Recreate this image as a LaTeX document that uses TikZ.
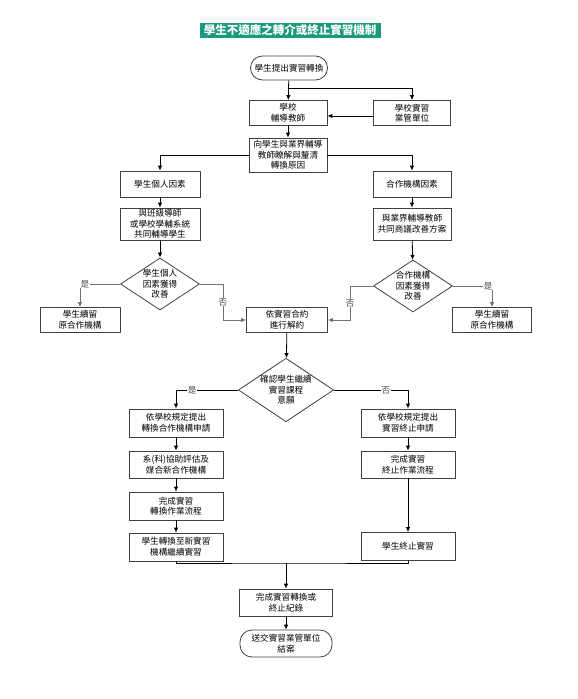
\documentclass[tikz,border=0pt]{standalone}
\usepackage{fontspec}
\setmainfont{Noto Sans CJK TC}
\usepackage{xcolor}
\usepackage{tikz}
\usetikzlibrary{arrows.meta,shapes.geometric}
\definecolor{titlegreen}{HTML}{1A9A7C}
\tikzset{every node/.style={font=\fontsize{8.6}{10.6}\selectfont,align=center},
    box/.style={draw=black!75,line width=0.8pt,inner sep=0pt},
    term/.style={box,rounded corners=12pt},
    decide/.style={box,diamond,aspect=1.5},
    flow/.style={draw,line width=0.8pt,-{Latex[length=5pt,width=4.5pt]}},
    plain/.style={draw,line width=0.8pt},
    branch/.style={draw=black!55,line width=0.8pt,-{Latex[length=5pt,width=4.5pt]}},
    yesno/.style={fill=white,inner sep=0.6pt,text=black!70}}

\begin{document}
\begin{tikzpicture}[x=1pt,y=-1pt]
            \useasboundingbox (0,0) rectangle (578,699);
            \node[fill=titlegreen,text=white,inner sep=0pt,minimum width=181pt,minimum height=15pt,
                font=\fontsize{11.5}{12}\selectfont\bfseries] (title) at (290,30) {學生不適應之轉介或終止實習機制};
            \node[term,minimum width=77pt,minimum height=24pt] (start) at (289,68) {學生提出實習轉換};
            \node[box,minimum width=78pt,minimum height=25pt] (teacher) at (288,113) {學校\\輔導教師};
            \node[box,minimum width=77pt,minimum height=25pt] (office) at (412,113) {學校實習\\業管單位};
            \node[box,minimum width=78pt,minimum height=34pt] (reason) at (288,155) {向學生與業界輔導\\教師瞭解與釐清\\轉換原因};
            \node[box,minimum width=80pt,minimum height=26pt] (personal) at (160,184) {學生個人因素};
            \node[box,minimum width=78pt,minimum height=26pt] (partner) at (412,184) {合作機構因素};
            \node[box,minimum width=80pt,minimum height=32pt] (counsel) at (160,224) {與班級導師\\或學校學輔系統\\共同輔導學生};
            \node[box,minimum width=78pt,minimum height=32pt] (negotiate) at (412,224) {與業界輔導教師\\共同商議改善方案};
            \node[decide,minimum width=79pt,minimum height=52pt] (dec1) at (160,284) {學生個人\\因素獲得\\改善};
            \node[decide,minimum width=79pt,minimum height=52pt] (dec2) at (413,286) {合作機構\\因素獲得\\改善};
            \node[box,minimum width=80pt,minimum height=25pt] (stay1) at (80,320) {學生續留\\原合作機構};
            \node[box,minimum width=79pt,minimum height=25pt] (stay2) at (492,320) {學生續留\\原合作機構};
            \node[box,minimum width=81pt,minimum height=25pt] (cancel) at (287,320) {依實習合約\\進行解約};
            \node[decide,minimum width=92pt,minimum height=63pt] (dec3) at (286,390) {確認學生繼續\\實習課程\\意願};
            \node[box,minimum width=94pt,minimum height=28pt] (applyT) at (176,423) {依學校規定提出\\轉換合作機構申請};
            \node[box,minimum width=94pt,minimum height=27pt] (match) at (176,464.5) {系(科)協助評估及\\媒合新合作機構};
            \node[box,minimum width=94pt,minimum height=28pt] (transfer) at (176,506) {完成實習\\轉換作業流程};
            \node[box,minimum width=94pt,minimum height=28pt] (newsite) at (176,547) {學生轉換至新實習\\機構繼續實習};
            \node[box,minimum width=94pt,minimum height=28pt] (applyE) at (408,423) {依學校規定提出\\實習終止申請};
            \node[box,minimum width=94pt,minimum height=27pt] (finishE) at (408,464.5) {完成實習\\終止作業流程};
            \node[box,minimum width=94pt,minimum height=28pt] (endE) at (408,546.5) {學生終止實習};
            \node[box,minimum width=93pt,minimum height=27pt] (record) at (286,602.5) {完成實習轉換或\\終止紀錄};
            \node[term,minimum width=92pt,minimum height=27pt] (close) at (286,643.5) {送交實習業管單位\\結案};
            \coordinate (split) at (289,88);
            \coordinate (merge) at (286,563);
            \draw[flow] (start) -- (teacher);
            \draw[flow] (split) -| (office);
            \draw[flow] ([yshift=-3pt]office.west) -- ([yshift=-3pt]teacher.east);
            \draw[flow] (teacher) -- (reason);
            \draw[flow] (reason.west) -| (personal);
            \draw[flow] (reason.east) -| (partner);
            \draw[flow] (personal) -- (counsel);
            \draw[flow] (partner) -- (negotiate);
            \draw[flow] (counsel) -- (dec1);
            \draw[flow] (negotiate) -- (dec2);
            \draw[branch] (dec1.west) -| node[yesno,pos=0.44] {是} (stay1);
            \draw[branch] (dec1.east) -- ++(23,0) |- node[yesno,pos=0.25] {否} (cancel.west);
            \draw[branch] (dec2.east) -| node[yesno,pos=0.45] {是} (stay2);
            \draw[branch] (dec2.west) -- ++(-23,0) |- node[yesno,pos=0.25] {否} (cancel.east);
            \draw[flow] (cancel) -- (dec3);
            \draw[flow] (dec3.west) -| node[yesno,pos=0.37] {是} (applyT);
            \draw[flow] (dec3.east) -| node[yesno,pos=0.35] {否} (applyE);
            \draw[flow] (applyT) -- (match);
            \draw[flow] (match) -- (transfer);
            \draw[flow] (transfer) -- (newsite);
            \draw[flow] (applyE) -- (finishE);
            \draw[flow] (finishE) -- (endE);
            \draw[plain] (newsite.south) |- (merge) -| (endE.south);
            \draw[flow] (merge) -- (record);
            \draw[flow] (record) -- (close);
        \end{tikzpicture}
\end{document}
